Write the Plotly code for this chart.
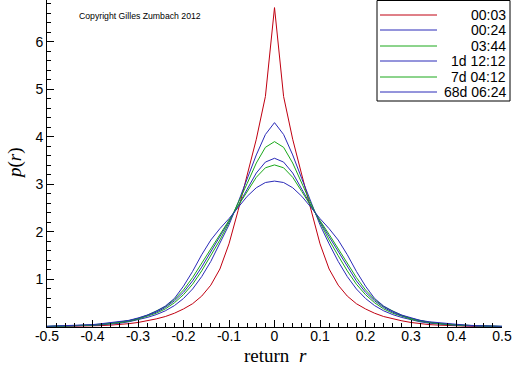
import plotly.graph_objects as go

# ---- data ----
r_values = [-0.50, -0.48, -0.46, -0.44, -0.42, -0.40, -0.38, -0.36, -0.34, -0.32,
            -0.30, -0.28, -0.26, -0.24, -0.22, -0.20, -0.18, -0.16, -0.14, -0.12,
            -0.10, -0.08, -0.06, -0.04, -0.02, 0.00, 0.02, 0.04, 0.06, 0.08,
            0.10, 0.12, 0.14, 0.16, 0.18, 0.20, 0.22, 0.24, 0.26, 0.28,
            0.30, 0.32, 0.34, 0.36, 0.38, 0.40, 0.42, 0.44, 0.46, 0.48, 0.50]

p_0003 = [0.005, 0.007, 0.009, 0.012, 0.016, 0.022, 0.03, 0.04, 0.05, 0.07,
          0.095, 0.13, 0.17, 0.22, 0.29, 0.38, 0.49, 0.65, 0.88, 1.22,
          1.75, 2.45, 3.20, 3.95, 4.85, 6.72, 4.85, 3.95, 3.20, 2.45,
          1.75, 1.22, 0.88, 0.65, 0.49, 0.38, 0.29, 0.22, 0.17, 0.13,
          0.095, 0.07, 0.05, 0.04, 0.03, 0.022, 0.016, 0.012, 0.009, 0.007, 0.005]

p_0024 = [0.01, 0.012, 0.015, 0.02, 0.026, 0.035, 0.045, 0.06, 0.08, 0.11,
          0.15, 0.20, 0.26, 0.34, 0.45, 0.60, 0.80, 1.06, 1.38, 1.75,
          2.15, 2.62, 3.12, 3.62, 4.05, 4.30, 4.05, 3.62, 3.12, 2.62,
          2.15, 1.75, 1.38, 1.06, 0.80, 0.60, 0.45, 0.34, 0.26, 0.20,
          0.15, 0.11, 0.08, 0.06, 0.045, 0.035, 0.026, 0.02, 0.015, 0.012, 0.01]

p_0344 = [0.01, 0.013, 0.017, 0.022, 0.03, 0.04, 0.05, 0.07, 0.09, 0.12,
          0.165, 0.22, 0.29, 0.38, 0.51, 0.68, 0.90, 1.18, 1.50, 1.83,
          2.20, 2.60, 3.02, 3.45, 3.78, 3.90, 3.78, 3.45, 3.02, 2.60,
          2.20, 1.83, 1.50, 1.18, 0.90, 0.68, 0.51, 0.38, 0.29, 0.22,
          0.165, 0.12, 0.09, 0.07, 0.05, 0.04, 0.03, 0.022, 0.017, 0.013, 0.01]

p_1d1212 = [0.012, 0.015, 0.019, 0.025, 0.032, 0.042, 0.055, 0.075, 0.10, 0.13,
            0.175, 0.235, 0.31, 0.41, 0.55, 0.73, 0.97, 1.26, 1.58, 1.90,
            2.22, 2.55, 2.90, 3.24, 3.47, 3.55, 3.47, 3.24, 2.90, 2.55,
            2.22, 1.90, 1.58, 1.26, 0.97, 0.73, 0.55, 0.41, 0.31, 0.235,
            0.175, 0.13, 0.10, 0.075, 0.055, 0.042, 0.032, 0.025, 0.019, 0.015, 0.012]

p_7d0412 = [0.013, 0.016, 0.021, 0.027, 0.035, 0.045, 0.058, 0.078, 0.10, 0.135,
            0.18, 0.245, 0.33, 0.43, 0.58, 0.78, 1.04, 1.34, 1.65, 1.95,
            2.24, 2.54, 2.85, 3.15, 3.35, 3.41, 3.35, 3.15, 2.85, 2.54,
            2.24, 1.95, 1.65, 1.34, 1.04, 0.78, 0.58, 0.43, 0.33, 0.245,
            0.18, 0.135, 0.10, 0.078, 0.058, 0.045, 0.035, 0.027, 0.021, 0.016, 0.013]

p_68d0624 = [0.015, 0.02, 0.025, 0.03, 0.04, 0.05, 0.07, 0.09, 0.11, 0.14,
             0.19, 0.25, 0.33, 0.44, 0.60, 0.86, 1.17, 1.52, 1.83, 2.07,
             2.28, 2.52, 2.75, 2.93, 3.04, 3.07, 3.04, 2.93, 2.75, 2.52,
             2.28, 2.07, 1.83, 1.52, 1.17, 0.86, 0.60, 0.44, 0.33, 0.25,
             0.19, 0.14, 0.11, 0.09, 0.07, 0.05, 0.04, 0.03, 0.025, 0.02, 0.015]

series_names = ["00:03", "00:24", "03:44", "1d 12:12", "7d 04:12", "68d 06:24"]
series_values = [p_0003, p_0024, p_0344, p_1d1212, p_7d0412, p_68d0624]
series_colors = ["#c00010", "#2a2ab8", "#1aa81a", "#2a2ab8", "#1aa81a", "#2a2ab8"]

x_tick_vals = [-0.5, -0.4, -0.3, -0.2, -0.1, 0.0, 0.1, 0.2, 0.3, 0.4, 0.5]
x_tick_text = ["-0.5", "-0.4", "-0.3", "-0.2", "-0.1", "0", "0.1", "0.2", "0.3", "0.4", "0.5"]
y_tick_vals = [1, 2, 3, 4, 5, 6]
y_tick_text = ["1", "2", "3", "4", "5", "6"]

# ---- figure ----
fig = go.Figure()
for name, vals, col in zip(series_names, series_values, series_colors):
    fig.add_trace(go.Scatter(x=r_values, y=vals, mode="lines", name=name,
                             line=dict(color=col, width=1), showlegend=False))

W, H = 512, 366
ml, mr, mt, mb = 47, 10, 0, 39
pw, ph = W - ml - mr, H - mt - mb

def px_x(px):
    return (px - ml) / pw

def px_y(py):
    return 1 - (py - mt) / ph

SANS = "Liberation Sans, Arial, sans-serif"
SERIF = "Liberation Serif, Times New Roman, serif"

# manual legend box (right-aligned labels as in the reference)
shapes = [dict(type="rect", xref="paper", yref="paper",
               x0=px_x(377), x1=px_x(510), y0=px_y(101), y1=px_y(0.5),
               line=dict(color="black", width=1), fillcolor="white", layer="above")]
annotations = []
row_y = [15, 30, 46, 61, 77, 92]
for name, col, ry in zip(series_names, series_colors, row_y):
    shapes.append(dict(type="line", xref="paper", yref="paper",
                       x0=px_x(380), x1=px_x(437), y0=px_y(ry), y1=px_y(ry),
                       line=dict(color=col, width=1), layer="above"))
    annotations.append(dict(text=name, xref="paper", yref="paper",
                            x=px_x(508), y=px_y(ry), xanchor="right", yanchor="middle",
                            showarrow=False,
                            font=dict(family=SANS, size=14, color="black")))

annotations.append(dict(text="Copyright Gilles Zumbach 2012", xref="paper", yref="paper",
                        x=px_x(77), y=px_y(16), xanchor="left", yanchor="middle",
                        showarrow=False, font=dict(family=SANS, size=8.7, color="black")))

# axis titles
annotations.append(dict(text="return  <i>r</i>", xref="paper", yref="paper",
                        x=px_x(275), y=px_y(355), xanchor="center", yanchor="middle",
                        showarrow=False, font=dict(family=SERIF, size=19, color="black")))
annotations.append(dict(text="<i>p</i>(<i>r</i>)", xref="paper", yref="paper",
                        x=px_x(15), y=px_y(163), xanchor="center", yanchor="middle",
                        textangle=-90, showarrow=False,
                        font=dict(family=SERIF, size=19, color="black")))

fig.update_layout(
    width=W, height=H,
    margin=dict(l=ml, r=mr, t=mt, b=mb, pad=0, autoexpand=False),
    paper_bgcolor="white", plot_bgcolor="white",
    showlegend=False,
    shapes=shapes, annotations=annotations,
    font=dict(family=SANS, size=14, color="black"),
    xaxis=dict(range=[-0.5, 0.5], showgrid=False, zeroline=False, automargin=False,
               showline=True, linecolor="black", linewidth=1,
               ticks="inside", ticklen=7, tickcolor="black", tickwidth=1,
               tickmode="array", tickvals=x_tick_vals, ticktext=x_tick_text,
               tickfont=dict(family=SANS, size=14), ticklabelstandoff=-4,
               minor=dict(tickmode="linear", tick0=-0.5, dtick=0.02,
                          ticks="inside", ticklen=4, tickcolor="black", showgrid=False)),
    yaxis=dict(range=[0, 6.88], showgrid=False, zeroline=False, automargin=False,
               showline=True, linecolor="black", linewidth=1,
               ticks="inside", ticklen=7, tickcolor="black", tickwidth=1,
               tickmode="array", tickvals=y_tick_vals, ticktext=y_tick_text,
               tickfont=dict(family=SANS, size=14),
               minor=dict(tickmode="linear", tick0=0, dtick=0.2,
                          ticks="inside", ticklen=4, tickcolor="black", showgrid=False)),
)

fig.write_html("out.html",
               config={"displayModeBar": False},
               post_script="document.body.style.margin='0';document.body.style.overflow='hidden';")
